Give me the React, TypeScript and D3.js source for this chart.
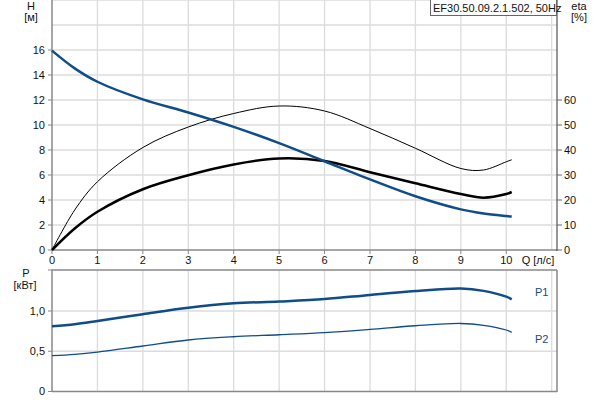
import React from "react";
import * as d3 from "d3";

const Q = [0, 0.5, 1, 2, 3, 4, 5, 6, 7, 8, 9, 9.5, 10, 10.12];
const H = [15.95, 14.53, 13.46, 12.05, 11.0, 9.85, 8.55, 7.1, 5.65, 4.3, 3.25, 2.92, 2.72, 2.68];
const ETA_THIN = [0, 16.0, 27.3, 41.0, 49.2, 54.6, 57.6, 55.6, 48.6, 40.7, 32.6, 32.0, 35.3, 36.1];
const ETA_THICK = [0, 8.6, 15.3, 24.3, 29.9, 34.2, 36.6, 35.6, 31.1, 26.7, 22.4, 20.95, 22.4, 23.2];
const P1 = [0.81, 0.835, 0.875, 0.96, 1.04, 1.095, 1.118, 1.148, 1.2, 1.248, 1.28, 1.25, 1.178, 1.145];
const P2 = [0.445, 0.462, 0.49, 0.565, 0.64, 0.68, 0.705, 0.732, 0.772, 0.817, 0.845, 0.822, 0.764, 0.735];

const Q_TICKS = [0, 1, 2, 3, 4, 5, 6, 7, 8, 9, 10];
const Q_GRID = [1, 2, 3, 4, 5, 6, 7, 8, 9, 10, 11];
const H_TICKS = [0, 2, 4, 6, 8, 10, 12, 14, 16];
const H_GRID = [2, 4, 6, 8, 10, 12, 14, 16, 18, 20];
const ETA_TICKS = [0, 10, 20, 30, 40, 50, 60];
const P_TICKS = [0, 0.5, 1.0];
const P_LABELS = ["0", "0,5", "1,0"];
const TITLE = "EF30.50.09.2.1.502, 50Hz";

const BLUE = "#0f4c8a";
const GRID = "#dcdcdc";
const AXIS = "#888";
const FONT = "'Liberation Sans', Arial, sans-serif";

export default function App() {
  const x = d3.scaleLinear().domain([0, 11]).range([52, 551.7]);
  const xRight = 557;
  const yH = d3.scaleLinear().domain([0, 20]).range([250, 0]);
  const yEta = d3.scaleLinear().domain([0, 100]).range([250, 0]);
  const yP = d3.scaleLinear().domain([0, 1.5]).range([391.5, 270.75]);

  const mk = (vals: number[], y: d3.ScaleLinear<number, number>) =>
    d3
      .line<number>()
      .x((_, i) => x(Q[i]))
      .y((d) => y(d))
      .curve(d3.curveCatmullRom.alpha(0.5))(vals) || "";

  const txt = { fontFamily: FONT, fontSize: 11, fill: "#111" } as const;

  return (
    <svg
      width={600}
      height={400}
      style={{ position: "absolute", left: 0, top: 0, background: "#fff" }}
    >
      {/* main plot grid */}
      {Q_GRID.map((q) => (
        <line key={"vg" + q} x1={x(q)} x2={x(q)} y1={0} y2={250} stroke={GRID} strokeWidth={1.3} />
      ))}
      {H_GRID.map((h) => (
        <line key={"hg" + h} x1={52} x2={xRight} y1={yH(h)} y2={yH(h)} stroke={GRID} strokeWidth={1.3} />
      ))}
      {/* main axes */}
      <line x1={52} x2={52} y1={0} y2={251} stroke={AXIS} strokeWidth={1.5} />
      <line x1={52} x2={xRight} y1={250} y2={250} stroke={AXIS} strokeWidth={1.5} />
      <line x1={xRight} x2={xRight} y1={0} y2={251} stroke="#333" strokeWidth={1} />
      {H_TICKS.map((h) => (
        <g key={"ht" + h}>
          <line x1={48} x2={52} y1={yH(h)} y2={yH(h)} stroke={AXIS} strokeWidth={1} />
          <text x={45} y={yH(h)} dy="0.35em" textAnchor="end" {...txt}>
            {h}
          </text>
        </g>
      ))}
      {ETA_TICKS.map((e) => (
        <g key={"et" + e}>
          <line x1={xRight} x2={xRight + 5} y1={yEta(e)} y2={yEta(e)} stroke="#666" strokeWidth={1} />
          <text x={564} y={yEta(e)} dy="0.35em" textAnchor="start" {...txt}>
            {e}
          </text>
        </g>
      ))}
      {Q_TICKS.map((q) => (
        <g key={"qt" + q}>
          <line x1={x(q)} x2={x(q)} y1={250} y2={254} stroke={AXIS} strokeWidth={1} />
          <text x={x(q)} y={260} dy="0.35em" textAnchor="middle" {...txt}>
            {q}
          </text>
        </g>
      ))}
      <text x={538} y={260} dy="0.35em" textAnchor="middle" {...txt}>
        Q [л/с]
      </text>
      <text x={31} y={6} dy="0.35em" textAnchor="middle" {...txt}>
        H
      </text>
      <text x={31} y={17} dy="0.35em" textAnchor="middle" {...txt}>
        [м]
      </text>
      <text x={579} y={6} dy="0.35em" textAnchor="middle" {...txt}>
        eta
      </text>
      <text x={579} y={17} dy="0.35em" textAnchor="middle" {...txt}>
        [%]
      </text>

      {/* main curves */}
      <path d={mk(ETA_THIN, yEta)} fill="none" stroke="#000" strokeWidth={1} />
      <path d={mk(ETA_THICK, yEta)} fill="none" stroke="#000" strokeWidth={2.5} />
      <path d={mk(H, yH)} fill="none" stroke={BLUE} strokeWidth={2.5} />

      {/* legend box */}
      <rect x={430.5} y={-1} width={126} height={16.5} fill="#fff" stroke="#666" strokeWidth={1} />
      <text x={433} y={8} dy="0.35em" {...txt}>
        {TITLE}
      </text>

      {/* power plot */}
      {Q_GRID.map((q) => (
        <line key={"pvg" + q} x1={x(q)} x2={x(q)} y1={270} y2={391.5} stroke={GRID} strokeWidth={1.3} />
      ))}
      {P_TICKS.filter((p) => p > 0).map((p) => (
        <line key={"phg" + p} x1={52} x2={xRight} y1={yP(p)} y2={yP(p)} stroke={GRID} strokeWidth={1.3} />
      ))}
      <line x1={52} x2={xRight} y1={270} y2={270} stroke={AXIS} strokeWidth={1.5} />
      <line x1={xRight} x2={xRight} y1={270} y2={392} stroke={AXIS} strokeWidth={1.5} />
      <line x1={52} x2={xRight} y1={391.5} y2={391.5} stroke={AXIS} strokeWidth={1.5} />
      <line x1={52} x2={52} y1={269.5} y2={392} stroke={AXIS} strokeWidth={1.5} />
      <line x1={48} x2={52} y1={270} y2={270} stroke={AXIS} strokeWidth={1} />
      {P_TICKS.map((p, i) => (
        <g key={"pt" + p}>
          <line x1={48} x2={52} y1={yP(p)} y2={yP(p)} stroke={AXIS} strokeWidth={1} />
          <text x={45} y={yP(p)} dy="0.35em" textAnchor="end" {...txt}>
            {P_LABELS[i]}
          </text>
        </g>
      ))}
      <text x={26} y={273} dy="0.35em" textAnchor="middle" {...txt}>
        P
      </text>
      <text x={25} y={285} dy="0.35em" textAnchor="middle" {...txt}>
        [кВт]
      </text>
      <path d={mk(P1, yP)} fill="none" stroke={BLUE} strokeWidth={2.5} />
      <path d={mk(P2, yP)} fill="none" stroke={BLUE} strokeWidth={1.3} />
      <text x={535} y={292.5} dy="0.35em" {...txt} fill={BLUE}>
        P1
      </text>
      <text x={535} y={339.5} dy="0.35em" {...txt} fill={BLUE}>
        P2
      </text>
    </svg>
  );
}
